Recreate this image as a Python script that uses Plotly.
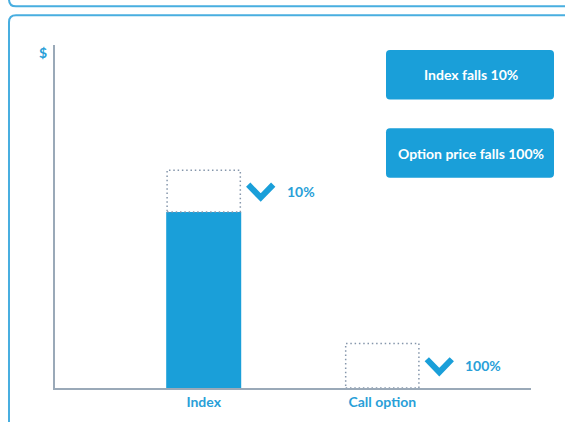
import plotly.graph_objects as go

# ---- data ----
categories = ["Index", "Call option"]
value_before = [63.5, 13.0]   # dotted outline (price before the fall)
value_after = [51.3, 0.0]     # filled bar (price after the fall)
fall_labels = ["10%", "100%"]
box_texts = ["Index falls 10%", "Option price falls 100%"]

# ---- style ----
BLUE = "#1a9fd9"
TXT_BLUE = "#2a9fd8"
AXIS = "#9aa9b8"
DOT = "#8596ab"
PANEL = "#48aee0"
FONT = "Lato"
FS = 14

W, H = 565, 422
L, R, T, B = 55, 531, 45, 391
x_range = [-0.8327, 1.8327]
y_range = [0, 100]
bar_w = 0.42


def px_x(px):
    return (px - L) / (R - L)


def px_y(py):
    return (B - py) / (B - T)


def rrect_path(x0, y0, x1, y1, r):
    def P(x, y):
        return f"{px_x(x):.5f},{px_y(y):.5f}"
    return (f"M {P(x0 + r, y0)} L {P(x1 - r, y0)} Q {P(x1, y0)} {P(x1, y0 + r)} "
            f"L {P(x1, y1 - r)} Q {P(x1, y1)} {P(x1 - r, y1)} "
            f"L {P(x0 + r, y1)} Q {P(x0, y1)} {P(x0, y1 - r)} "
            f"L {P(x0, y0 + r)} Q {P(x0, y0)} {P(x0 + r, y0)} Z")


fig = go.Figure()
xs = list(range(len(categories)))
fig.add_trace(go.Bar(x=xs, y=value_after, width=bar_w,
                     marker=dict(color=BLUE, line=dict(width=0)),
                     hoverinfo="skip"))

shapes = []
annotations = []

# panels
shapes.append(dict(type="path", xref="paper", yref="paper",
                   path=rrect_path(9, -60, 640, 6, 7),
                   line=dict(color=PANEL, width=2), fillcolor="rgba(0,0,0,0)", layer="below"))
shapes.append(dict(type="path", xref="paper", yref="paper",
                   path=rrect_path(9, 15, 640, 520, 7),
                   line=dict(color=PANEL, width=2), fillcolor="rgba(0,0,0,0)", layer="below"))

# dotted outlines, chevrons and labels
px_per_x = (R - L) / (x_range[1] - x_range[0])
px_per_y = (B - T) / (y_range[1] - y_range[0])
for i in xs:
    shapes.append(dict(type="rect", xref="x", yref="y",
                       x0=i - bar_w / 2 + 0.005, x1=i + bar_w / 2 - 0.005,
                       y0=value_after[i], y1=value_before[i],
                       line=dict(color=DOT, width=1.5, dash="1.5px,2.8px"),
                       fillcolor="rgba(0,0,0,0)"))
    mid = (value_before[i] + value_after[i]) / 2
    cx = i + 57 / px_per_x
    hw = 12.5 / px_per_x
    hh = 6.5 / px_per_y
    fig.add_trace(go.Scatter(x=[cx - hw, cx, cx + hw], y=[mid + hh, mid - hh, mid + hh],
                             mode="lines", line=dict(color=BLUE, width=6),
                             hoverinfo="skip"))
    annotations.append(dict(x=i + 81 / px_per_x, y=mid, xref="x", yref="y",
                            text=f"<b>{fall_labels[i]}</b>", showarrow=False,
                            xanchor="left", yanchor="middle",
                            font=dict(family=FONT, size=FS, color=TXT_BLUE)))

# info boxes
box_tops = [50, 129]
for t, txt in zip(box_tops, box_texts):
    shapes.append(dict(type="path", xref="paper", yref="paper",
                       path=rrect_path(386, t, 554, t + 50, 4),
                       line=dict(width=0), fillcolor=BLUE))
    annotations.append(dict(x=px_x(471), y=px_y(t + 25), xref="paper", yref="paper",
                            text=f"<b>{txt}</b>", showarrow=False,
                            xanchor="center", yanchor="middle",
                            font=dict(family=FONT, size=FS, color="white")))

annotations.append(dict(x=px_x(43), y=px_y(53), xref="paper", yref="paper",
                        text="<b>$</b>", showarrow=False, xanchor="center", yanchor="middle",
                        font=dict(family=FONT, size=FS, color=TXT_BLUE)))

fig.update_layout(
    width=W, height=H,
    margin=dict(l=L, r=W - R, t=T, b=H - B),
    paper_bgcolor="white", plot_bgcolor="white",
    showlegend=False,
    shapes=shapes, annotations=annotations,
    xaxis=dict(range=x_range, tickvals=xs, ticktext=[f"<b>{c}</b>" for c in categories],
               showline=True, linecolor=AXIS, linewidth=2, showgrid=False, zeroline=False,
               ticks="", tickfont=dict(family=FONT, size=FS, color=TXT_BLUE), fixedrange=True),
    yaxis=dict(range=y_range, showline=True, linecolor=AXIS, linewidth=2, showgrid=False,
               zeroline=False, showticklabels=False, ticks="", fixedrange=True),
)

fig.write_html("out.html", config={"displayModeBar": False},
               post_script="document.body.style.margin='0';")
